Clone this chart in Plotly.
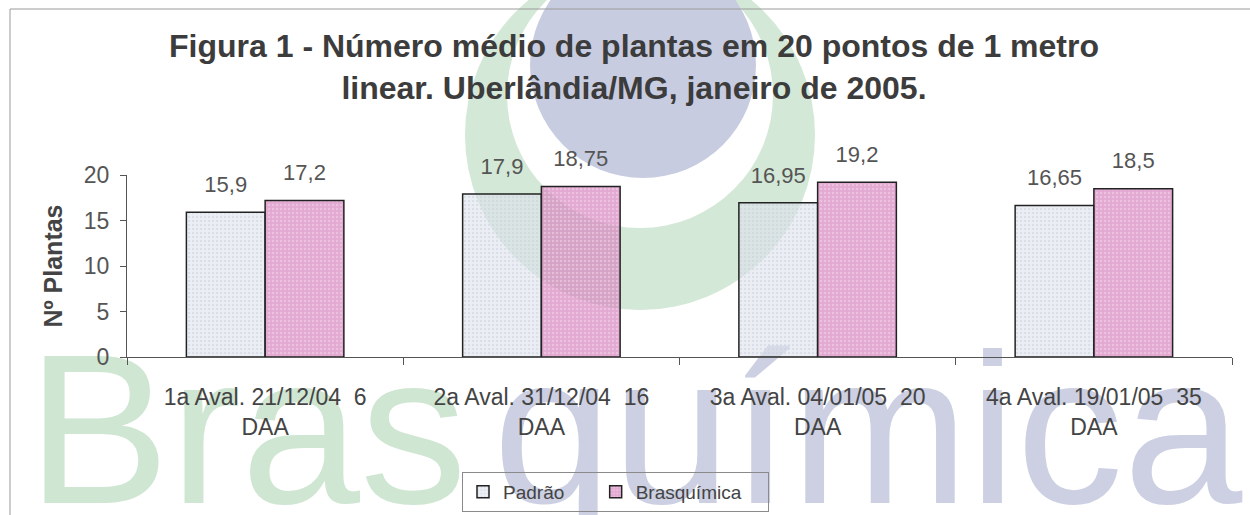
import plotly.graph_objects as go

# ---- data ----
categories = [
    "1a Aval. 21/12/04\u00a0 6<br>DAA",
    "2a Aval. 31/12/04\u00a0 16<br>DAA",
    "3a Aval. 04/01/05\u00a0 20<br>DAA",
    "4a Aval. 19/01/05\u00a0 35<br>DAA",
]
padrao = [15.9, 17.9, 16.95, 16.65]
brasquimica = [17.2, 18.75, 19.2, 18.5]
series_names = ["Padrão", "Brasquímica"]
y_ticks = [0, 5, 10, 15, 20]

title_text = ("<b>Figura 1 - Número médio de plantas em 20 pontos de 1 metro<br>"
              "linear. Uberlândia/MG, janeiro de 2005.</b>")

# ---- layout geometry (pixels) ----
W, H = 1250, 515
L, R, T, B = 127, 18, 175, 158
PW, PH = W - L - R, H - T - B


def fx(px):
    return (px - L) / PW


def fy(py):
    return (H - B - py) / PH


def fmt(v):
    return ("%g" % v).replace(".", ",")


FONT = "Liberation Sans, Arial, sans-serif"
NB = "\u00a0"

fig = go.Figure()

fig.add_trace(go.Bar(
    name=series_names[0] + NB * 5, x=categories, y=padrao, offsetgroup="p",
    marker=dict(color="rgba(222,226,236,0.6)",
                line=dict(color="#222222", width=1.5),
                pattern=dict(shape=".", fgcolor="#c9cdd8", size=4, solidity=0.25)),
    hoverinfo="skip",
))
fig.add_trace(go.Bar(
    name=series_names[1] + NB * 4, x=categories, y=brasquimica, offsetgroup="b",
    marker=dict(color="rgba(212,128,188,0.68)",
                line=dict(color="#222222", width=1.5),
                pattern=dict(shape=".", fgcolor="#f5d8ec", size=4, solidity=0.3)),
    hoverinfo="skip",
))

for vals, grp in [(padrao, "p"), (brasquimica, "b")]:
    fig.add_trace(go.Scatter(
        x=categories, y=vals, offsetgroup=grp, mode="markers+text",
        text=[fmt(v) for v in vals], textposition="top center",
        textfont=dict(family=FONT, size=22, color="#555555"),
        marker=dict(size=22, color="rgba(0,0,0,0)"),
        showlegend=False, hoverinfo="skip", cliponaxis=False,
    ))

shapes = []
# logo watermark
shapes.append(dict(type="circle", xref="paper", yref="paper", layer="below",
                   x0=fx(465), x1=fx(815), y0=fy(-40), y1=fy(310),
                   fillcolor="#d3e8d6", line=dict(width=0)))
shapes.append(dict(type="circle", xref="paper", yref="paper", layer="below",
                   x0=fx(507), x1=fx(773), y0=fy(-38), y1=fy(228),
                   fillcolor="#ffffff", line=dict(width=0)))
shapes.append(dict(type="circle", xref="paper", yref="paper", layer="below",
                   x0=fx(530), x1=fx(756), y0=fy(-48), y1=fy(178),
                   fillcolor="#c8cce0", line=dict(width=0)))
# text watermark
shapes.append(dict(type="rect", xref="paper", yref="paper", layer="below",
                   x0=fx(24), x1=fx(480), y0=fy(528), y1=fy(350),
                   line=dict(width=0), fillcolor="rgba(0,0,0,0)",
                   label=dict(text="Bras", textposition="bottom left", padding=0,
                              font=dict(family=FONT, size=214, color="#cfe6d2"))))
shapes.append(dict(type="rect", xref="paper", yref="paper", layer="below",
                   x0=fx(490), x1=fx(1270), y0=fy(528), y1=fy(350),
                   line=dict(width=0), fillcolor="rgba(0,0,0,0)",
                   label=dict(text="química", textposition="bottom left", padding=0,
                              font=dict(family=FONT, size=214, color="#ccd0e2"))))
# frame
shapes.append(dict(type="rect", xref="paper", yref="paper", layer="above",
                   x0=fx(10), x1=fx(1265), y0=fy(9), y1=fy(530),
                   line=dict(color="#9a9a9a", width=1), fillcolor="rgba(0,0,0,0)"))

fig.update_layout(
    width=W, height=H,
    margin=dict(l=L, r=R, t=T, b=B, autoexpand=False),
    paper_bgcolor="#ffffff", plot_bgcolor="rgba(0,0,0,0)",
    barmode="group", bargap=0.43, bargroupgap=0,
    scattermode="group", scattergap=0.43,
    font=dict(family=FONT, color="#444444"),
    title=dict(text=title_text, x=634 / W, xanchor="center", xref="container",
               y=1 - 57 / H, yanchor="top", yref="container",
               font=dict(family=FONT, size=32, color="#3c3c3c")),
    xaxis=dict(type="category", range=[-0.5, 3.5], tickson="boundaries",
               ticks="outside", ticklen=7, tickcolor="#555555",
               showline=True, linecolor="#555555", linewidth=1,
               showgrid=False, zeroline=False, automargin=False,
               ticklabelstandoff=19,
               tickfont=dict(family=FONT, size=23, color="#444444")),
    yaxis=dict(range=[0, 20], tickvals=y_ticks, ticks="outside", ticklen=6,
               tickcolor="#555555", showline=True, linecolor="#555555", linewidth=1,
               showgrid=False, zeroline=False, automargin=False,
               ticklabelstandoff=6,
               tickfont=dict(family=FONT, size=23, color="#555555"),
               title=dict(text="<b>Nº Plantas</b>", standoff=14,
                          font=dict(family=FONT, size=25, color="#444444"))),
    legend=dict(orientation="h", x=fx(462), xanchor="left", y=fy(472), yanchor="top",
                bordercolor="#8a8a8a", borderwidth=1, bgcolor="rgba(255,255,255,0)",
                font=dict(family=FONT, size=19, color="#444444"),
                traceorder="normal"),
    shapes=shapes,
    showlegend=True,
)

fig.write_html("out.html",
               config={"displayModeBar": False},
               post_script="document.body.style.margin='0px';")
